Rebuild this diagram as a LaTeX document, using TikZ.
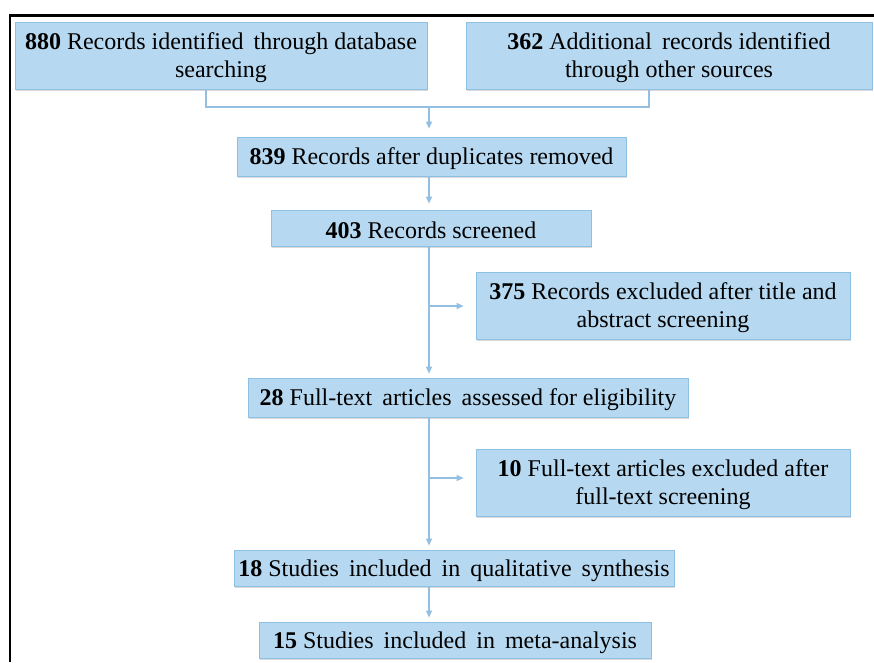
\documentclass[tikz,border=0pt]{standalone}
\usepackage{fontspec}
\setmainfont{Liberation Serif}
\usetikzlibrary{arrows.meta,shadows}
\definecolor{boxfill}{HTML}{B6D8F0}
\definecolor{boxline}{HTML}{8EC0E4}
\definecolor{conn}{HTML}{93BFE2}
\tikzset{
  flowbox/.style={draw=boxline, line width=0.8pt, fill=boxfill,
    inner sep=0pt,
    drop shadow={shadow xshift=1pt, shadow yshift=-2pt, opacity=0.25, fill=black!60}},
  txt/.style={align=center, inner sep=0pt, yshift=-2.5pt,
    font=\fontsize{24}{28}\selectfont},
  conline/.style={draw=conn, line width=1.1pt},
  arr/.style={conline, -{Triangle[length=7pt,width=6pt]}, shorten >=6pt},
  frame/.style={draw=black, line width=2.2pt}
}
\begin{document}
\begin{tikzpicture}[x=1pt,y=-1pt]
\useasboundingbox (0,0) rectangle (874,662);
\draw[frame] (10,662) -- (10,15.5) -- (874,15.5);
\node[flowbox, minimum width=412pt, minimum height=67pt,
  label={[txt]center:{\textbf{880} Records identified\, through database\\searching}}] (b1) at (221,55.5) {};
\node[flowbox, minimum width=406pt, minimum height=67pt,
  label={[txt]center:{\textbf{362} Additional\, records identified\\through other sources}}] (b2) at (669,55.5) {};
\node[flowbox, minimum width=389pt, minimum height=39pt,
  label={[txt]center:{\textbf{839} Records after duplicates removed}}] (b3) at (431.5,156.5) {};
\node[flowbox, minimum width=320pt, minimum height=36pt,
  label={[txt]center:{\textbf{403} Records screened}}] (b4) at (431,228) {};
\node[flowbox, minimum width=374pt, minimum height=67pt,
  label={[txt]center:{\textbf{375} Records excluded after title and\\abstract screening}}] (b5) at (663,305.5) {};
\node[flowbox, minimum width=440pt, minimum height=39pt,
  label={[txt]center:{\textbf{28} Full-text\, articles\, assessed for eligibility}}] (b6) at (468,397.5) {};
\node[flowbox, minimum width=374pt, minimum height=67pt,
  label={[txt]center:{\textbf{10} Full-text articles excluded after\\full-text screening}}] (b7) at (663,482.5) {};
\node[flowbox, minimum width=440pt, minimum height=36pt,
  label={[txt]center:{\textbf{18} Studies\, included\, in\, qualitative\, synthesis}}] (b8) at (454,568) {};
\node[flowbox, minimum width=392pt, minimum height=36pt,
  label={[txt]center:{\textbf{15} Studies\, included\, in\, meta-analysis}}] (b9) at (455,640) {};
\coordinate (t) at (429,0);
\coordinate (j1) at (206,107);
\coordinate (j2) at (649,107);
\coordinate (jm) at (429,107);
\draw[conline] (b1.south -| j1) -- (j1) -- (j2) -- (b2.south -| j2);
\draw[arr, shorten >=8pt] (jm) -- (b3.north -| t);
\draw[arr] (b3.south -| t) -- (b4.north -| t);
\draw[arr, shorten >=4pt] (b4.south -| t) -- (b6.north -| t);
\coordinate (h1) at (429,306);
\draw[arr, shorten >=12pt] (h1) -- (b5.west |- h1);
\draw[arr, shorten >=4pt] (b6.south -| t) -- (b8.north -| t);
\coordinate (h2) at (429,478);
\draw[arr, shorten >=12pt] (h2) -- (b7.west |- h2);
\draw[arr, shorten >=4pt] (b8.south -| t) -- (b9.north -| t);
\end{tikzpicture}
\end{document}
